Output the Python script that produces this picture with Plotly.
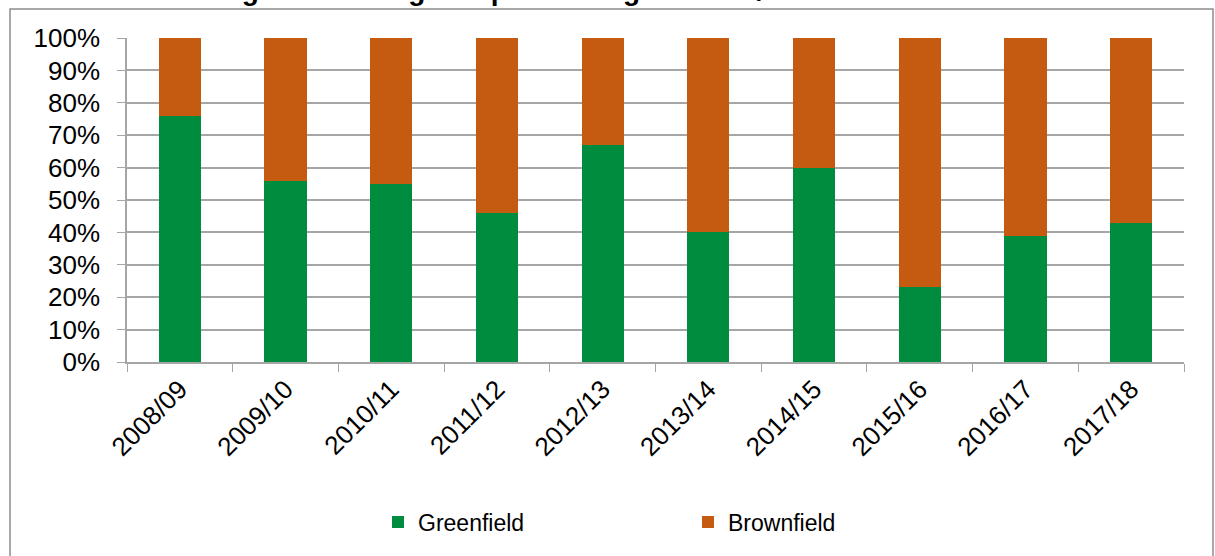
import plotly.graph_objects as go

years = ["2008/09", "2009/10", "2010/11", "2011/12", "2012/13",
         "2013/14", "2014/15", "2015/16", "2016/17", "2017/18"]
greenfield = [76, 56, 55, 46, 67, 40, 60, 23, 39, 43]
brownfield = [100 - g for g in greenfield]

title_text = "Chart 1: Percentage of housing completed on greenfield/brownfield land"

GREEN = "#008C3F"
BROWN = "#C55A11"
GRID = "#A6A6A6"
FONT = "Liberation Sans, Arial, sans-serif"

# plot area in pixels (from the reference)
W, H = 1215, 556
L, R, T, B = 127, 1184, 38, 362


def px_x(p):
    return (p - L) / (R - L)


def px_y(p):
    return (B - p) / (B - T)


fig = go.Figure()
fig.add_trace(go.Bar(x=years, y=greenfield, name="Greenfield", marker_color=GREEN,
                     marker_line_width=0))
fig.add_trace(go.Bar(x=years, y=brownfield, name="Brownfield", marker_color=BROWN,
                     marker_line_width=0))

fig.update_layout(
    width=W, height=H,
    barmode="stack", bargap=0.6,
    margin=dict(l=L, r=W - R, t=T, b=H - B, autoexpand=False),
    plot_bgcolor="white", paper_bgcolor="white",
    font=dict(family=FONT, size=26, color="black"),
    showlegend=True,
    legend=dict(orientation="h", x=px_x(378), xanchor="left", y=px_y(522), yanchor="middle",
                font=dict(size=23), entrywidth=265, itemwidth=30,
                traceorder="normal"),
)

fig.update_yaxes(range=[0, 100], dtick=10, ticksuffix="%", showgrid=True, gridcolor=GRID,
                 gridwidth=1.5, showline=True, linecolor=GRID, linewidth=1.5,
                 ticks="outside", ticklen=8, tickcolor=GRID, ticklabelstandoff=12,
                 fixedrange=True, zeroline=False)
fig.update_xaxes(showline=True, linecolor=GRID, linewidth=1.5, ticks="outside", ticklen=8,
                 tickcolor=GRID, tickson="boundaries", tickangle=-45, showgrid=False,
                 fixedrange=True)

# outer chart border
fig.add_shape(type="rect", xref="paper", yref="paper",
              x0=px_x(10), x1=px_x(1213), y0=px_y(600), y1=px_y(9),
              line=dict(color="#8C8C8C", width=1.5), fillcolor="rgba(0,0,0,0)", layer="below")

# title, cut off at the top edge as in the reference
fig.add_annotation(text="<b>" + title_text + "</b>", xref="paper", yref="paper",
                   x=px_x(8), xanchor="left", y=px_y(8.5), yanchor="bottom",
                   showarrow=False, font=dict(family=FONT, size=28, color="black"))

fig.write_html("out.html", config={"displayModeBar": False},
               post_script="document.body.style.margin='0';")
